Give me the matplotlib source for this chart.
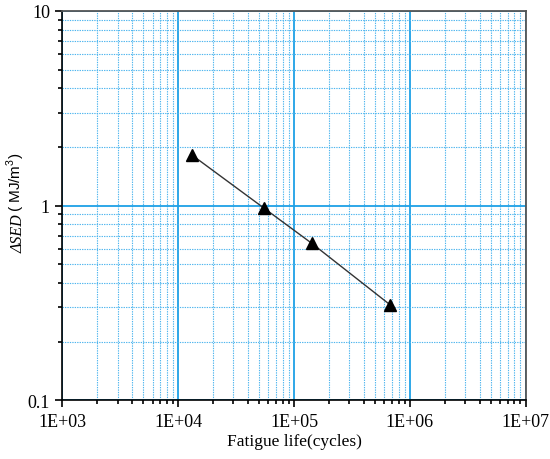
import matplotlib
matplotlib.use("Agg")
from matplotlib import pyplot as plt
from matplotlib.ticker import LogLocator, FixedLocator, NullFormatter

# fatigue life (cycles) vs strain energy density range
cycles = [1.31e4, 5.5e4, 1.42e5, 6.8e5]
delta_sed = [1.82, 0.97, 0.64, 0.308]

x_ticks = [1e3, 1e4, 1e5, 1e6, 1e7]
x_labels = ["1E+03", "1E+04", "1E+05", "1E+06", "1E+07"]
y_ticks = [0.1, 1, 10]
y_labels = ["0.1", "1", "10"]

GRID = "#4fb6ee"

plt.rcParams["mathtext.fontset"] = "custom"
plt.rcParams["mathtext.rm"] = "Liberation Sans"

fig = plt.figure(figsize=(5.5, 4.6), dpi=100)
ax = fig.add_axes([0.1136, 0.128, 0.842, 0.846])

ax.set_xscale("log")
ax.set_yscale("log")
ax.set_xlim(1e3, 1e7)
ax.set_ylim(0.1, 10)

ax.plot(cycles, delta_sed, color="#333333", linewidth=1.0,
        marker="^", markersize=8, markerfacecolor="black",
        markeredgecolor="black", zorder=5)

ax.xaxis.set_major_locator(FixedLocator(x_ticks))
ax.set_xticklabels(x_labels)
ax.yaxis.set_major_locator(FixedLocator(y_ticks))
ax.set_yticklabels(y_labels)
ax.xaxis.set_minor_locator(LogLocator(base=10, subs=range(2, 10), numticks=20))
ax.yaxis.set_minor_locator(LogLocator(base=10, subs=range(2, 10), numticks=20))
ax.xaxis.set_minor_formatter(NullFormatter())
ax.yaxis.set_minor_formatter(NullFormatter())

ax.grid(which="major", color="#1ea0e6", linestyle="-", linewidth=1.3)
ax.grid(which="minor", color=GRID, linestyle=(0, (1.2, 1.0)), linewidth=0.8)
ax.set_axisbelow(True)

for side in ("top", "right"):
    ax.spines[side].set_color("#555555")
    ax.spines[side].set_linewidth(1.3)
for side in ("left", "bottom"):
    ax.spines[side].set_color("black")
    ax.spines[side].set_linewidth(1.2)

ax.tick_params(which="major", direction="out", length=5, width=1.2,
               top=False, right=False, labelsize=13, pad=4)
ax.tick_params(which="minor", direction="out", length=3, width=1.2,
               top=False, right=False)
for lab in ax.get_xticklabels() + ax.get_yticklabels():
    lab.set_fontfamily("Liberation Serif")

ax.set_xlabel("Fatigue life(cycles)", fontfamily="Liberation Serif", fontsize=12.5)
ax.xaxis.set_label_coords(0.5, -0.085)

# y label: italic serif symbol part, then sans unit part
t1 = fig.text(27 / 550, 1 - 253 / 460, "ΔSED", rotation=90, ha="right", va="bottom",
              fontfamily="Liberation Serif", fontstyle="italic", fontsize=11.5)
ax.annotate("( MJ/m$^3$)", xy=(1, 1), xycoords=t1, xytext=(0, 2),
            textcoords="offset points", rotation=90, ha="right", va="bottom",
            fontfamily="Liberation Sans", fontsize=11, annotation_clip=False)

fig.savefig("out.png", dpi=100)
